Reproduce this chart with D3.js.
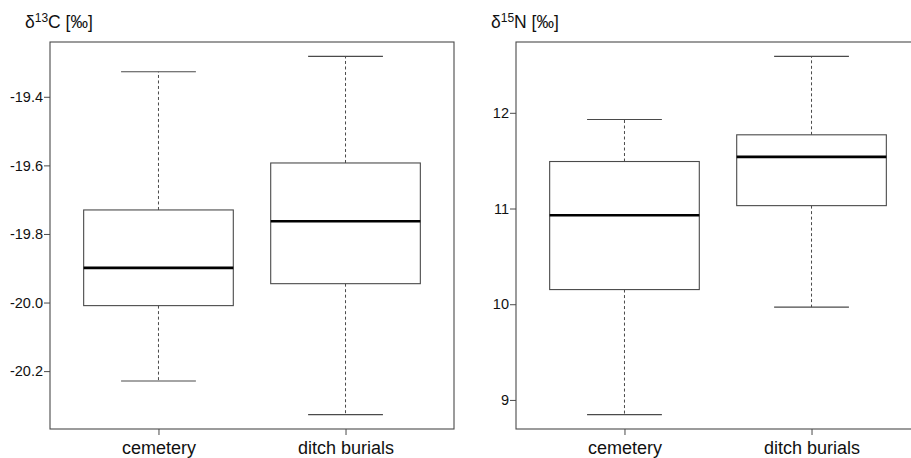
<!DOCTYPE html>
<html><head><meta charset="utf-8">
<script src="https://cdn.jsdelivr.net/npm/d3@7"></script>
<style>
body{margin:0;background:#fff;}
svg text{font-family:"Liberation Sans",Arial,sans-serif;fill:#111;}
</style></head>
<body><svg id="chart" width="911" height="458"></svg>
<script>
// Data
const categories = ["cemetery", "ditch burials"];
// each row: [whiskerLow, q1, median, q3, whiskerHigh]
const carbonStats = [
  [-20.229, -20.009, -19.899, -19.730, -19.327],
  [-20.327, -19.945, -19.763, -19.593, -19.282]
];
const nitrogenStats = [
  [8.846, 10.153, 10.930, 11.491, 11.930],
  [9.970, 11.030, 11.540, 11.770, 12.590]
];
const carbonTicks = [-20.2, -20.0, -19.8, -19.6, -19.4];
const nitrogenTicks = [9, 10, 11, 12];
const carbonTitle = {base: "δ", sup: "13", rest: "C [‰]"};
const nitrogenTitle = {base: "δ", sup: "15", rest: "N [‰]"};

const svg = d3.select("#chart");
const lineCol = "#4a4a4a";

function panel(opts) {
  const {left, top, width, height, stats, ticks, fmt, title} = opts;
  const g = svg.append("g");
  const allVals = stats.flat();
  const lo = d3.min(allVals), hi = d3.max(allVals);
  const pad = (hi - lo) * 0.04;
  const y = d3.scaleLinear().domain([lo - pad, hi + pad]).range([top + height, top]);
  const x = d3.scaleLinear().domain([0.42, categories.length + 0.58]).range([left, left + width]);

  // frame
  g.append("rect").attr("x", left).attr("y", top).attr("width", width).attr("height", height)
    .attr("fill", "none").attr("stroke", lineCol).attr("stroke-width", 1.1);

  // y axis
  const ya = g.append("g").attr("transform", `translate(${left},0)`)
    .call(d3.axisLeft(y).tickValues(ticks).tickFormat(fmt).tickSize(6).tickPadding(1));
  ya.select(".domain").remove();
  ya.selectAll("line").attr("stroke", lineCol);
  ya.selectAll("text").style("font-size", "14.5px").attr("fill", "#111");

  // x axis
  const xa = g.append("g").attr("transform", `translate(0,${top + height})`)
    .call(d3.axisBottom(x).tickValues(categories.map((c, i) => i + 1))
      .tickFormat((d) => categories[d - 1]).tickSize(6).tickPadding(6.5));
  xa.select(".domain").remove();
  xa.selectAll("line").attr("stroke", lineCol);
  xa.selectAll("text").style("font-size", "18px").attr("fill", "#111");

  const boxW = x(1.4) - x(0.6);
  const capW = boxW / 2;
  stats.forEach((s, i) => {
    const cx = x(i + 1);
    const [wl, q1, med, q3, wh] = s;
    // whiskers
    g.append("line").attr("x1", cx).attr("x2", cx).attr("y1", y(q3)).attr("y2", y(wh))
      .attr("stroke", lineCol).attr("stroke-dasharray", "3,2.5");
    g.append("line").attr("x1", cx).attr("x2", cx).attr("y1", y(q1)).attr("y2", y(wl))
      .attr("stroke", lineCol).attr("stroke-dasharray", "3,2.5");
    // caps
    [wl, wh].forEach(v => g.append("line").attr("x1", cx - capW / 2).attr("x2", cx + capW / 2)
      .attr("y1", y(v)).attr("y2", y(v)).attr("stroke", lineCol).attr("stroke-width", 1.1));
    // box
    g.append("rect").attr("x", cx - boxW / 2).attr("y", y(q3)).attr("width", boxW)
      .attr("height", y(q1) - y(q3)).attr("fill", "#fff").attr("stroke", lineCol).attr("stroke-width", 1.1);
    // median
    g.append("line").attr("x1", cx - boxW / 2).attr("x2", cx + boxW / 2)
      .attr("y1", y(med)).attr("y2", y(med)).attr("stroke", "#000").attr("stroke-width", 2.6);
  });

  // title
  const t = svg.append("text").attr("x", opts.titleX).attr("y", 28).style("font-size", "17.5px");
  t.append("tspan").text(title.base);
  t.append("tspan").attr("dy", -6.5).style("font-size", "12px").text(title.sup);
  t.append("tspan").attr("dy", 6.5).text(title.rest);
}

const fmt1 = d => d3.format(".1f")(d).replace("−", "-");
panel({left: 50, top: 42, width: 404, height: 387, stats: carbonStats, ticks: carbonTicks,
  fmt: fmt1, title: carbonTitle, titleX: 25});
panel({left: 516, top: 42, width: 404, height: 387, stats: nitrogenStats, ticks: nitrogenTicks,
  fmt: d3.format("d"), title: nitrogenTitle, titleX: 491});
</script></body></html>
